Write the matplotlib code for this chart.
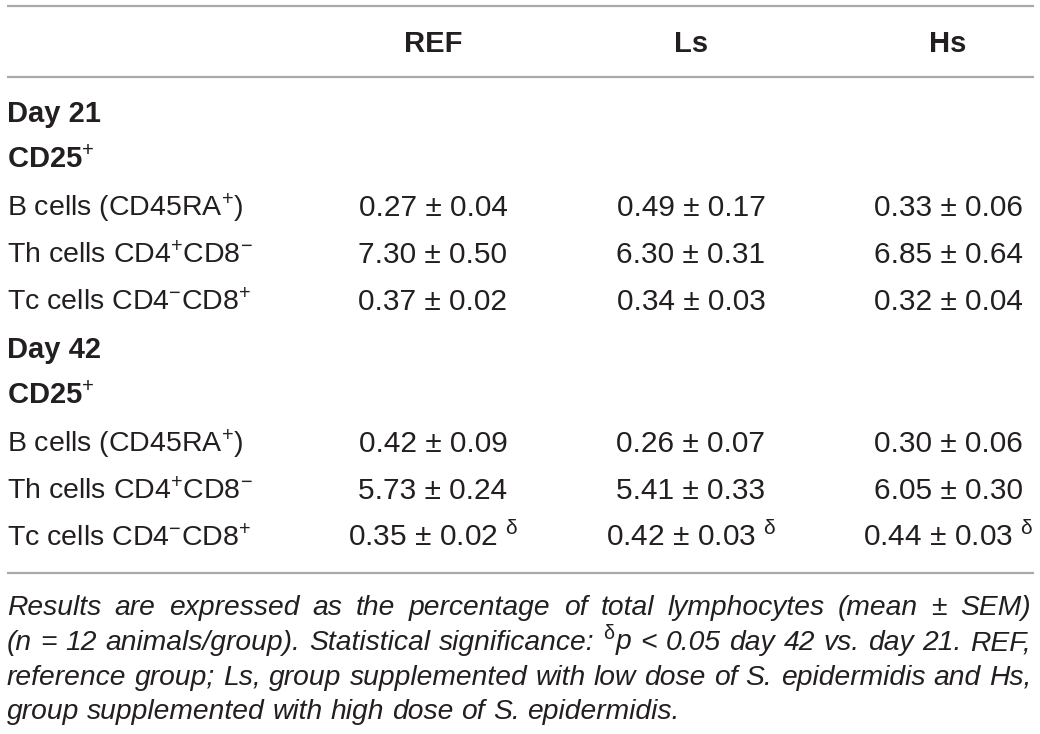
import matplotlib
matplotlib.use("Agg")
import matplotlib.pyplot as plt

plt.rcParams['font.family'] = ['Liberation Sans', 'DejaVu Sans']
plt.rcParams['mathtext.fontset'] = 'custom'
plt.rcParams['mathtext.rm'] = 'Liberation Sans'
plt.rcParams['mathtext.it'] = 'Liberation Sans:italic'
plt.rcParams['mathtext.bf'] = 'Liberation Sans:bold'

# table data
groups = ["REF", "Ls", "Hs"]
days = ["Day 21", "Day 42"]
marker = "CD25$^{+}$"
cell_types = ["B cells (CD45RA$^{+}$)",
              "Th cells CD4$^{+}$CD8$^{-}$",
              "Tc cells CD4$^{-}$CD8$^{+}$"]

mean_d21 = [[0.27, 7.30, 0.37], [0.49, 6.30, 0.34], [0.33, 6.85, 0.32]]
sem_d21 = [[0.04, 0.50, 0.02], [0.17, 0.31, 0.03], [0.06, 0.64, 0.04]]
mean_d42 = [[0.42, 5.73, 0.35], [0.26, 5.41, 0.42], [0.30, 6.05, 0.44]]
sem_d42 = [[0.09, 0.24, 0.02], [0.07, 0.33, 0.03], [0.06, 0.30, 0.03]]
sig_d42 = [[False, False, True], [False, False, True], [False, False, True]]

note_lines = [
    "Results are expressed as the percentage of total lymphocytes (mean \u00b1 SEM)",
    "(n = 12 animals/group). Statistical significance: $^{\\mathrm{\u03b4}}$p < 0.05 day 42 vs. day 21. REF,",
    "reference group; Ls, group supplemented with low dose of S. epidermidis and Hs,",
    "group supplemented with high dose of S. epidermidis.",
]

W, H = 1040, 734
fig = plt.figure(figsize=(W / 100, H / 100), dpi=100)
ax = fig.add_axes([0, 0, 1, 1])
ax.set_xlim(0, W)
ax.set_ylim(H, 0)
ax.axis('off')

txt = '#231f20'
rule = '#a7a9ac'
fs_head = 21
fs_lab = 20.5
fs_num = 21.5
fs_note = 20.3
left, right = 7, 1034
col_x = [433, 691, 948]

for y in [6, 77, 573]:
    ax.plot([left, right], [y, y], color=rule, lw=1.6, solid_capstyle='butt')

for g, x in zip(groups, col_x):
    ax.text(x, 52, g, ha='center', va='baseline', fontsize=fs_head,
            fontweight='bold', color=txt)

blocks = [(mean_d21, sem_d21, None), (mean_d42, sem_d42, sig_d42)]
base = [122, 358]
step = 47
for d, (mean, sem, sig), y0 in zip(days, blocks, base):
    ax.text(left, y0, d, ha='left', va='baseline', fontsize=fs_head,
            fontweight='bold', color=txt)
    ax.text(left, y0 + step - 1, marker, ha='left', va='baseline', fontsize=fs_head,
            fontweight='bold', color=txt)
    for i, lab in enumerate(cell_types):
        y = y0 + step * (i + 2)
        ax.text(left, y, lab, ha='left', va='baseline', fontsize=fs_lab, color=txt)
        for j, x in enumerate(col_x):
            s = f"{mean[j][i]:.2f} \u00b1 {sem[j][i]:.2f}"
            if sig is not None and sig[j][i]:
                s += " $^{\\mathrm{\u03b4}}$"
            ax.text(x, y, s, ha='center', va='baseline', fontsize=fs_num, color=txt)

# justified italic footnote
fig.canvas.draw()
r = fig.canvas.get_renderer()
note_base = [615, 650, 685, 719]
for k, (line, y) in enumerate(zip(note_lines, note_base)):
    words = line.split(" ")
    arts = [ax.text(0, y, w, ha='left', va='baseline', fontsize=fs_note,
                    style='italic', color=txt) for w in words]
    widths = [a.get_window_extent(renderer=r).width for a in arts]
    if k < len(note_lines) - 1:
        gap = (right - 3 - left - sum(widths)) / (len(words) - 1)
    else:
        gap = r.points_to_pixels(fs_note) * 0.278
    x = left
    for a, w in zip(arts, widths):
        a.set_x(x)
        x += w + gap

fig.savefig("out.png", dpi=100)
